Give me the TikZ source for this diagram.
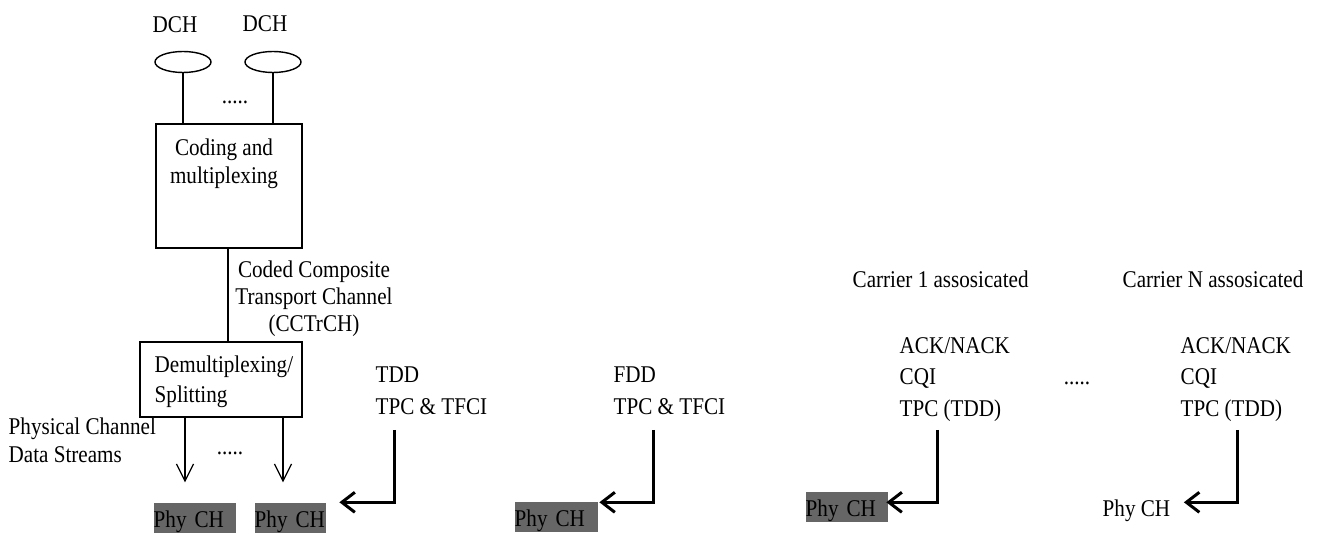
\documentclass[tikz,border=0pt]{standalone}
\usepackage{fontspec}
\setmainfont{Liberation Serif}[FakeStretch=0.88]
\usepackage{tikz}
\usetikzlibrary{arrows.meta,shapes.geometric}
\definecolor{phygray}{RGB}{102,102,102}

\begin{document}
\begin{tikzpicture}[x=0.5pt,y=-0.5pt,line width=0.7pt,
			lbl/.style={inner sep=0pt,font=\fontsize{12}{15}\selectfont},
			chan/.style={ellipse,draw,minimum width=28pt,minimum height=10.5pt,inner sep=0pt},
			blk/.style={rectangle,draw,inner sep=0pt},
			phytxt/.style={lbl,text height=12.5pt,text depth=2.5pt},
			phych/.style={phytxt,fill=phygray,text width=41pt,align=left},
			thinarr/.style={-{Straight Barb[length=8.5pt,width=8.5pt]},line width=0.6pt},
			thickarr/.style={-{Straight Barb[length=6.5pt,width=10pt]},line width=1.5pt}]
			
			\useasboundingbox (0,0) rectangle (1341,534);
			
			% transport channels and coding
			\node[lbl,anchor=base west] (dch1) at (152,33) {DCH};
			\node[lbl,anchor=base west] (dch2) at (242,32) {DCH};
			\node[chan] (ch1) at (183,62) {};
			\node[chan] (ch2) at (273,62) {};
			\node[lbl,anchor=base] (dots1) at (235,104) {.....};
			\node[blk,minimum width=73pt,minimum height=62pt] (cod) at (229,186) {};
			\node[lbl,anchor=base,align=center,font=\fontsize{12}{14}\selectfont] (codtxt) at (224,184) {Coding and\\multiplexing};
			\draw (ch1.south) -- (ch1.south |- cod.north);
			\draw (ch2.south) -- (ch2.south |- cod.north);
			
			% CCTrCH and splitting
			\node[blk,minimum width=81pt,minimum height=37.5pt] (demux) at (221,379.5) {};
			\node[lbl,anchor=base west,align=left] (demuxtxt) at (154,403) {Demultiplexing/\\Splitting};
			\draw (cod.south -| 228,0) -- (demux.north -| 228,0);
			\node[lbl,anchor=base,align=center,font=\fontsize{12}{13.5}\selectfont] (cctrch) at (314,332)
				{Coded Composite\\Transport Channel\\(CCTrCH)};
			\node[lbl,anchor=base west,align=left,font=\fontsize{12}{14}\selectfont] (pcds) at (8,463)
				{Physical Channel\\Data Streams};
			\node[lbl,anchor=base] (dots2) at (230,455) {.....};
			
			% physical channels
			\node[phych,anchor=base west] (pc1) at (153,528) {Phy CH};
			\node[phych,anchor=base west,text width=35.5pt] (pc2) at (254,528) {Phy CH};
			\node[phych,anchor=base west,text width=41.5pt] (pc3) at (514,527) {Phy CH};
			\node[phych,anchor=base west] (pc4) at (805,517) {Phy CH};
			\node[phytxt,anchor=base west] (pcn) at (1102,517) {Phy CH};
			\draw[thinarr] (demux.south -| 185,0) -- ([yshift=10pt]pc1.north -| 185,0);
			\draw[thinarr] (demux.south -| 283,0) -- ([yshift=10pt]pc2.north -| 283,0);
			
			% control information
			\node[lbl,anchor=base west,align=left,font=\fontsize{12}{16}\selectfont] (tdd) at (375,415) {TDD\\TPC \& TFCI};
			\node[lbl,anchor=base west,align=left,font=\fontsize{12}{16}\selectfont] (fdd) at (613,415) {FDD\\TPC \& TFCI};
			\node[lbl,anchor=base west] (car1) at (852,288) {Carrier 1 assosicated};
			\node[lbl,anchor=base west] (carn) at (1122,288) {Carrier N assosicated};
			\node[lbl,anchor=base west,align=left,font=\fontsize{12}{16}\selectfont] (hs1) at (899,417) {ACK/NACK\\CQI\\TPC (TDD)};
			\node[lbl,anchor=base west,align=left,font=\fontsize{12}{16}\selectfont] (hsn) at (1180,417) {ACK/NACK\\CQI\\TPC (TDD)};
			\node[lbl,anchor=base] (dots3) at (1077,385) {.....};
			
			\coordinate (tddfrom) at (394,430);
			\coordinate (fddfrom) at (653,430);
			\coordinate (hs1from) at (937,430);
			\coordinate (hsnfrom) at (1237,430);
			\draw[thickarr] (tddfrom) |- ([xshift=6.5pt]pc2.north east);
			\draw[thickarr] (fddfrom) |- ([xshift=0.5pt,yshift=-0.5pt]pc3.north east);
			\draw[thickarr] (hs1from) |- ([xshift=-1pt,yshift=-5.5pt]pc4.north east);
			\draw[thickarr] (hsnfrom) |- ([xshift=6.5pt,yshift=-5.5pt]pcn.north east);
			
			\end{tikzpicture}
\end{document}
